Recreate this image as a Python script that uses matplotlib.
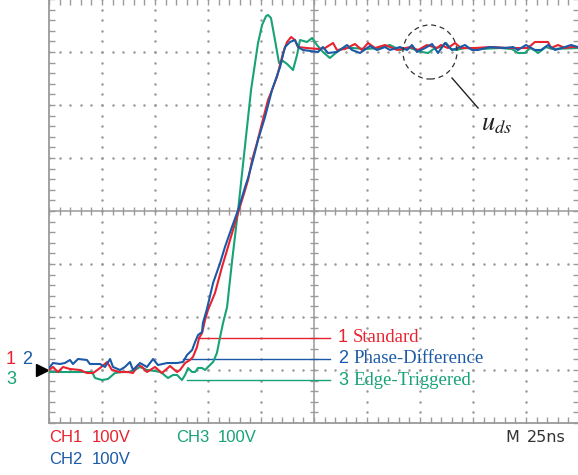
import numpy as np
import matplotlib
matplotlib.use('Agg')
import matplotlib.pyplot as plt
from matplotlib.patches import Ellipse
from matplotlib.ticker import MultipleLocator

# Scope traces: time in ns (25 ns/div), voltage in V (100 V/div)
t_std = [0, 1.9, 4.2, 6.6, 9.9, 14.6, 17.9, 20.8, 24.1, 27.4, 29.7, 33.5, 37.3, 39.6, 42.0, 43.9,
         46.2, 50.0, 53.3, 57.1, 60.4, 61.8, 64.2, 66.5, 67.9, 69.8, 70.8, 72.2, 73.6, 75.0, 78.3,
         81.6, 84.0, 86.8, 89.6, 92.5, 93.9, 95.8, 98.1, 100.5, 103.3, 105.2, 107.5, 110.4, 112.3,
         114.2, 116.0, 117.5, 121.7, 126.9, 130.2, 134.0, 135.8, 139.6, 144.3, 147.6, 150.5, 153.8,
         158.5, 164.2, 170.3, 174.1, 178.3, 183.0, 184.9, 188.2, 191.5, 194.3, 200.9, 208.0, 217.5,
         225.9, 229.2, 235.4, 236.8, 240.1, 243.4, 246.2, 249.5]
v_std = [0, 5.7, -3.8, 5.7, 1.9, 0, -5.7, -5.7, 3.8, 15.1, 0, -3.8, -3.8, -5.7, 9.4, 5.7,
         -3.8, 5.7, -5.7, 7.5, -3.8, 0, 13.2, 18.9, 24.5, 43.4, 60.4, 69.8, 94.3, 113.2, 145.3,
         194.3, 226.4, 264.2, 301.9, 339.6, 358.5, 396.2, 428.3, 466.0, 509.4, 528.3, 552.8, 598.1, 618.9,
         628.3, 622.6, 609.4, 607.5, 605.7, 607.5, 617.0, 603.8, 605.7, 615.1, 603.8, 617.0, 607.5,
         613.2, 603.8, 609.4, 603.8, 613.2, 607.5, 613.2, 607.5, 617.0, 607.5, 607.5, 609.4, 607.5,
         607.5, 618.9, 618.9, 607.5, 613.2, 607.5, 609.4, 609.4]

t_pd = [0, 1.9, 5.2, 7.5, 9.9, 11.3, 13.7, 17.9, 19.3, 24.1, 26.4, 28.8, 30.2, 33.5, 35.8, 38.2,
        39.6, 42.9, 46.2, 49.1, 51.4, 55.7, 60.4, 63.2, 65.1, 67.5, 68.9, 70.3, 72.2, 72.6, 74.5,
        77.4, 80.7, 83.0, 86.3, 89.2, 92.5, 93.9, 96.2, 98.6, 101.9, 105.2, 109.0, 111.3, 113.7,
        116.0, 117.5, 119.8, 126.9, 129.2, 131.6, 135.8, 140.6, 142.9, 146.7, 151.4, 154.7, 158.5,
        160.8, 165.6, 168.9, 171.2, 173.6, 177.4, 180.7, 183.5, 186.8, 190.1, 192.9, 196.2, 199.5,
        202.4, 208.0, 215.1, 218.9, 221.2, 225.0, 229.2, 232.1, 235.4, 238.7, 243.4, 246.2, 249.5]
v_pd = [3.8, 13.2, 11.3, 13.2, 18.9, 11.3, 20.8, 18.9, 11.3, 11.3, 5.7, 20.8, 5.7, 0, 5.7, 15.1,
        0, 13.2, 5.7, 20.8, 9.4, 13.2, 13.2, 15.1, 28.3, 37.7, 52.8, 66.0, 71.7, 88.7, 115.1,
        164.2, 201.9, 232.1, 269.8, 301.9, 345.3, 362.3, 396.2, 434.0, 477.4, 528.3, 571.7, 609.4, 618.9,
        622.6, 609.4, 603.8, 600.0, 609.4, 598.1, 600.0, 613.2, 603.8, 598.1, 611.3, 603.8, 609.4,
        603.8, 609.4, 603.8, 613.2, 600.0, 607.5, 615.1, 598.1, 617.0, 603.8, 607.5, 613.2, 603.8,
        603.8, 609.4, 607.5, 609.4, 603.8, 613.2, 603.8, 603.8, 613.2, 603.8, 609.4, 613.2, 609.4]

t_et = [0, 20.3, 21.7, 25.0, 27.8, 31.1, 34.4, 37.3, 40.6, 42.9, 46.2, 50.0, 52.4, 53.8, 56.1,
        58.5, 60.4, 62.7, 64.2, 65.6, 67.5, 68.9, 70.3, 72.2, 73.6, 75.0, 77.4, 79.2, 80.7, 82.1,
        84.0, 86.3, 89.2, 92.5, 95.3, 98.6, 100.5, 102.4, 103.3, 104.7, 106.6, 108.5, 110.4, 112.3,
        115.1, 117.0, 118.4, 121.7, 124.1, 126.4, 129.2, 132.5, 135.8, 138.7, 143.4, 149.1, 156.1,
        160.8, 165.6, 170.3, 175.9, 178.8, 182.1, 184.9, 187.3, 189.6, 192.0, 196.2, 203.3, 212.7,
        218.4, 221.2, 224.5, 226.9, 228.8, 230.7, 234.4, 237.3, 249.5]
v_et = [-3.8, -3.8, -15.1, -18.9, -17.0, -5.7, -3.8, -3.8, 0, 5.7, 0, -1.9, -3.8, -7.5, -15.1,
        -9.4, -9.4, -18.9, -9.4, 3.8, -3.8, -3.8, 3.8, 3.8, 0, 5.7, 15.1, 32.1, 62.3, 88.7,
        118.9, 203.8, 301.9, 424.5, 528.3, 617.0, 650.9, 667.9, 669.8, 664.2, 622.6, 579.2, 583.0, 577.4,
        566.0, 594.3, 622.6, 618.9, 626.4, 613.2, 600.0, 588.7, 600.0, 607.5, 607.5, 605.7, 607.5,
        613.2, 603.8, 607.5, 600.0, 598.1, 607.5, 609.4, 617.0, 605.7, 603.8, 607.5, 605.7, 607.5,
        605.7, 598.1, 598.1, 607.5, 603.8, 598.1, 609.4, 605.7, 607.5]

# Legend entries: label, leader start (ns), leader level (V)
names = ['Standard', 'Phase-Difference', 'Edge-Triggered']
lead_start = [70.3, 63.2, 65.1]
lead_level = [60.4, 20.8, -18.9]
colors = ['#e8232f', '#1b5aa6', '#17a277']
grid_c = '#9a9a9a'

# Choose the plot size (width x height, in inches)
fig = plt.figure(figsize=(5.78, 4.75), dpi=100)
ax = fig.add_axes([49/578, 52/475, 530/578, 424/475])
ax.set_xlim(0, 250)
ax.set_ylim(-100, 700)

# Dotted graticule: 10 x 8 divisions, dots every 1/5 division
for xg in np.arange(25, 250, 25):
    if xg != 125:
        yy = np.arange(-100, 701, 20)
        ax.plot(np.full(len(yy), xg), yy, ls='none', marker='o', ms=1.8, mec='none', mfc=grid_c, zorder=1)
for yg in np.arange(0, 700, 100):
    if yg != 300:
        xx = np.arange(0, 251, 5)
        ax.plot(xx, np.full(len(xx), yg), ls='none', marker='o', ms=1.8, mec='none', mfc=grid_c, zorder=1)

# Centre crosshair with small ticks
ax.axvline(125, color=grid_c, lw=1.1, zorder=1)
ax.axhline(300, color=grid_c, lw=1.1, zorder=1)
ax.vlines(np.arange(0, 251, 5), 292, 308, color=grid_c, lw=1.0, zorder=1)
ax.hlines(np.arange(-100, 701, 20), 123.0, 127.0, color=grid_c, lw=1.0, zorder=1)

# Frame and inward ticks
for s in ax.spines.values():
    s.set_color(grid_c)
    s.set_linewidth(1.3)
ax.xaxis.set_major_locator(MultipleLocator(25))
ax.xaxis.set_minor_locator(MultipleLocator(5))
ax.yaxis.set_major_locator(MultipleLocator(100))
ax.yaxis.set_minor_locator(MultipleLocator(20))
ax.tick_params(which='both', direction='in', length=4.5, width=1.0, color=grid_c,
               top=True, right=True, labelbottom=False, labelleft=False)

# Traces
ax.plot(t_std, v_std, color=colors[0], lw=1.5, zorder=4, solid_joinstyle='round')
ax.plot(t_pd, v_pd, color=colors[1], lw=1.5, zorder=5, solid_joinstyle='round')
ax.plot(t_et, v_et, color=colors[2], lw=1.5, zorder=3, solid_joinstyle='round')

# Leader lines and labels
for i in range(3):
    ax.plot([lead_start[i], 132.5], [lead_level[i], lead_level[i]], color=colors[i], lw=1.0, zorder=2)
    ax.text(136.3, lead_level[i], str(i + 1), color=colors[i], fontsize=13, family='Liberation Sans',
            ha='left', va='center')
    ax.text(143.4, lead_level[i], names[i], color=colors[i], fontsize=13.5, family='Liberation Serif',
            ha='left', va='center')

# u_ds annotation
ax.add_patch(Ellipse((179.7, 600), 25.5, 102, fill=False, ec='#333333', ls=(0, (4, 3)), lw=0.9, zorder=6))
ax.plot([190.1, 202.4], [550.9, 494.3], color='#222222', lw=1.0, zorder=6)
ax.text(211.3, 466, r'$u_{ds}$', fontsize=19, math_fontfamily='stix', ha='center', va='center', color='#222222')

# Ground marker and channel numbers on the left
ax.plot([-3.1], [0], marker='>', ms=8, color='black', clip_on=False)
fig.text(11/578, 1 - 359/475, '1', color=colors[0], fontsize=13, family='Liberation Sans', ha='center', va='center')
fig.text(27/578, 1 - 359/475, '2', color=colors[1], fontsize=13, family='Liberation Sans', ha='center', va='center')
fig.text(11/578, 1 - 380/475, '3', color=colors[2], fontsize=13, family='Liberation Sans', ha='center', va='center')

# Scope settings under the screen
fig.text(49/578, 1 - 438/475, 'CH1', color=colors[0], fontsize=12, family='Liberation Sans', va='center')
fig.text(92/578, 1 - 438/475, '100V', color=colors[0], fontsize=12, family='Liberation Sans', va='center')
fig.text(49/578, 1 - 460/475, 'CH2', color=colors[1], fontsize=12, family='Liberation Sans', va='center')
fig.text(92/578, 1 - 460/475, '100V', color=colors[1], fontsize=12, family='Liberation Sans', va='center')
fig.text(176/578, 1 - 438/475, 'CH3', color=colors[2], fontsize=12, family='Liberation Sans', va='center')
fig.text(218/578, 1 - 438/475, '100V', color=colors[2], fontsize=12, family='Liberation Sans', va='center')
fig.text(505/578, 1 - 438/475, 'M', color='#333333', fontsize=11.5, family='DejaVu Sans', va='center')
fig.text(527/578, 1 - 438/475, '25ns', color='#333333', fontsize=11.5, family='DejaVu Sans', va='center')

plt.savefig('out.png', dpi=100)
